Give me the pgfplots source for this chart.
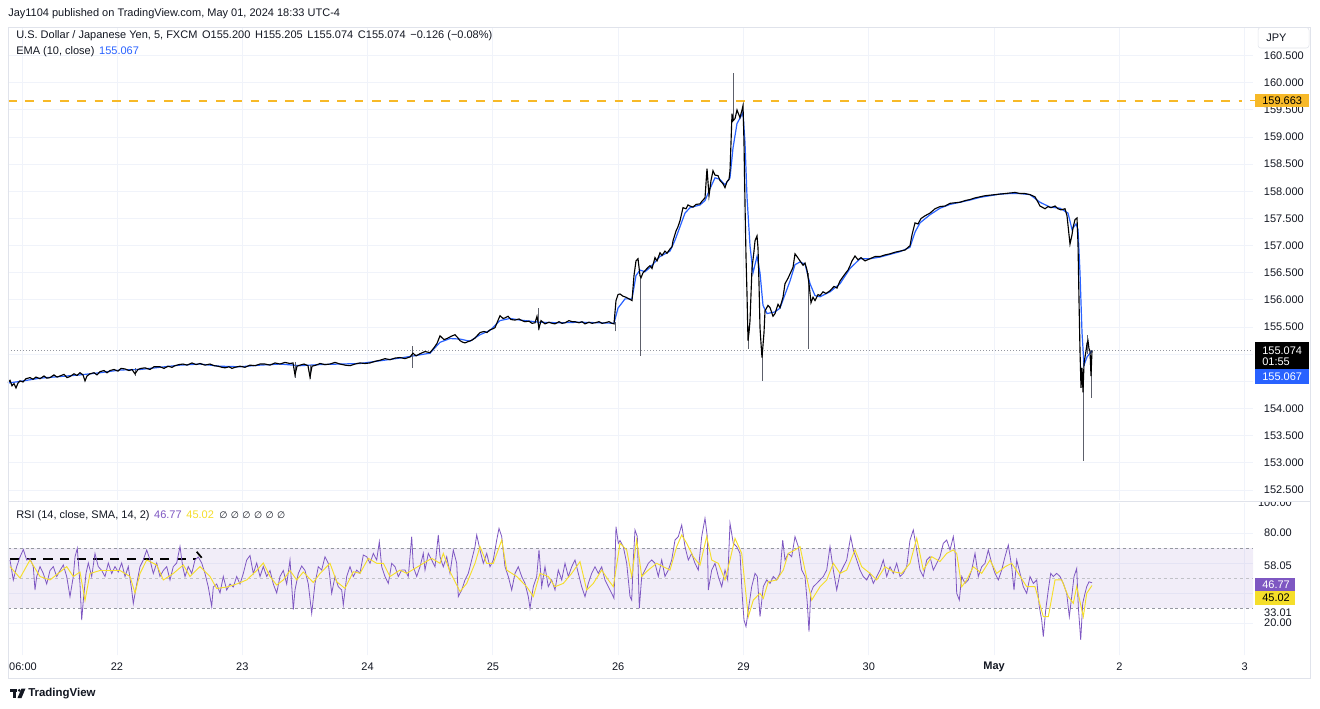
\documentclass[border=0pt]{standalone}
\usepackage{fontspec}
\setmainfont{Liberation Sans}
\newfontfamily\dejavu{DejaVu Sans}
\usepackage{pgfplots}
\pgfplotsset{compat=1.18}
\definecolor{txt}{HTML}{131722}
\definecolor{gridc}{HTML}{F0F3FA}
\definecolor{framec}{HTML}{E0E3EB}
\definecolor{emablue}{HTML}{2962FF}
\definecolor{orng}{HTML}{F7B928}
\definecolor{rsip}{HTML}{7E57C2}
\definecolor{rsiy}{HTML}{F5DE2A}
\definecolor{dgray}{HTML}{9598A1}
\definecolor{wickc}{HTML}{5D606B}
\newcommand\fs{\fontsize{8.25}{10}\selectfont}
\pgfplotsset{tvaxis/.style={scale only axis, width=933.75pt, xmin=8, xmax=1253,
  axis line style={draw=none}, tick style={draw=none}, major tick length=0pt,
  xtick={23,117,242.3,367.6,492.9,618.2,743.5,868.8,994.1,1119.4,1244.7},
  xticklabels={}, yticklabels={}, grid=major, grid style={gridc, line width=0.75pt}, clip=true}}
\begin{document}
\begin{tikzpicture}
\fill[white] (0pt,0pt) rectangle (990pt,-531.75pt);
% ---------------- price panel
\begin{axis}[tvaxis, at={(6pt,-21pt)}, anchor=north west, height=354pt,
  ymin=152.316, ymax=161.009, ytick={152.5,153,...,160.5}]
\addplot[orng, line width=1.4pt, dash pattern=on 6.5pt off 6.5pt] coordinates {(8,159.663)(1242,159.663)};
\addplot[dgray, line width=0.6pt, dash pattern=on 0.75pt off 1.5pt] coordinates {(8,155.074)(1253,155.074)};
\addplot[emablue, line width=0.9pt] coordinates {(8,154.47)(20,154.50)(40,154.56)(60,154.59)(80,154.62)(100,154.66)(120,154.71)(140,154.72)(160,154.76)(180,154.80)(200,154.82)(220,154.78)(240,154.77)(260,154.80)(280,154.82)(300,154.79)(320,154.81)(340,154.82)(360,154.83)(380,154.88)(400,154.93)(420,154.99)(430,155.02)(440,155.22)(450,155.29)(460,155.28)(470,155.24)(480,155.36)(490,155.44)(500,155.62)(510,155.66)(520,155.63)(540,155.59)(560,155.58)(580,155.59)(600,155.58)(614,155.57)(618,155.85)(625,156.02)(632,156.02)(636,156.45)(640,156.55)(645,156.52)(650,156.60)(660,156.80)(670,156.90)(675,157.10)(680,157.35)(685,157.60)(690,157.70)(700,157.75)(705,157.83)(710,158.05)(715,158.25)(720,158.22)(725,158.12)(730,158.25)(733,158.8)(737,159.25)(743,159.45)(745,158.9)(747,157.9)(750,157.0)(753,156.5)(757,156.8)(760,156.5)(763,155.9)(767,155.75)(775,155.78)(780,155.85)(790,156.35)(795,156.65)(800,156.70)(805,156.66)(810,156.30)(815,156.08)(820,156.06)(830,156.15)(840,156.30)(850,156.58)(860,156.76)(870,156.76)(880,156.79)(890,156.84)(900,156.89)(910,156.97)(915,157.25)(920,157.42)(930,157.57)(940,157.69)(950,157.76)(960,157.80)(970,157.84)(980,157.89)(990,157.92)(1000,157.95)(1010,157.96)(1020,157.96)(1030,157.94)(1040,157.80)(1050,157.71)(1060,157.69)(1068,157.6)(1072,157.3)(1076,157.4)(1078,157.3)(1080,156.5)(1082,155.4)(1084,154.8)(1087,154.95)(1092,155.067)};
\addplot[wickc, line width=0.5pt, unbounded coords=jump] coordinates {(640,154.97)(640,156.45)(640.5,nan)(733,159.3)(733,160.18)(733.5,nan)(762,154.51)(762,155.0)(762.5,nan)(748,155.1)(748,155.5)(748.5,nan)(808,155.10)(808,156.5)(808.5,nan)(1083,153.04)(1083,154.5)(1083.5,nan)(1091,154.20)(1091,154.8)(1091.5,nan)(615,155.42)(615,155.6)(615.5,nan)(538,155.45)(538,155.85)(538.5,nan)(412,154.75)(412,155.15)(412.5,nan)(295,154.57)(295,154.85)(295.5,nan)(310,154.55)(310,154.8)(310.5,nan)(135,154.60)(135,154.75)(135.5,nan)(1087,155.0)(1087,155.35)};
\addplot[black, line width=0.85pt] coordinates {(8,154.48)(10,154.52)(12,154.42)(14,154.46)(16,154.38)(18,154.47)(20,154.51)(23,154.49)(26,154.55)(30,154.57)(33,154.54)(36,154.58)(40,154.55)(44,154.60)(47,154.56)(50,154.57)(54,154.62)(57,154.58)(60,154.60)(64,154.63)(67,154.57)(70,154.59)(74,154.64)(77,154.61)(80,154.66)(83,154.62)(85,154.51)(87,154.60)(90,154.64)(94,154.66)(97,154.62)(100,154.68)(104,154.70)(107,154.66)(110,154.70)(114,154.72)(118,154.69)(121,154.74)(125,154.73)(129,154.70)(132,154.72)(135,154.64)(138,154.72)(141,154.74)(145,154.75)(150,154.72)(154,154.77)(160,154.77)(164,154.74)(168,154.78)(172,154.76)(175,154.79)(179,154.81)(183,154.82)(187,154.80)(192,154.84)(196,154.81)(200,154.83)(205,154.80)(210,154.82)(214,154.79)(218,154.78)(222,154.76)(225,154.75)(229,154.77)(232,154.74)(235,154.76)(240,154.78)(245,154.76)(250,154.80)(255,154.79)(260,154.82)(265,154.82)(270,154.80)(275,154.84)(280,154.82)(285,154.85)(290,154.83)(293,154.84)(295,154.62)(297,154.78)(300,154.80)(304,154.82)(308,154.79)(310,154.58)(312,154.78)(316,154.80)(320,154.83)(325,154.81)(330,154.82)(335,154.85)(340,154.82)(345,154.80)(350,154.79)(355,154.82)(360,154.84)(365,154.83)(370,154.84)(375,154.87)(380,154.89)(385,154.92)(390,154.90)(395,154.93)(400,154.94)(405,154.92)(410,154.95)(413,155.02)(416,154.97)(420,155.01)(425,155.05)(430,155.03)(434,155.12)(437,155.20)(440,155.34)(444,155.27)(447,155.29)(451,155.33)(455,155.36)(458,155.30)(460,155.25)(463,155.22)(465,155.21)(469,155.24)(472,155.26)(475,155.30)(478,155.36)(480,155.40)(484,155.42)(487,155.40)(490,155.45)(493,155.47)(495,155.49)(497,155.58)(500,155.71)(503,155.66)(505,155.67)(508,155.70)(511,155.64)(515,155.63)(519,155.65)(522,155.62)(525,155.60)(529,155.61)(532,155.57)(535,155.58)(537,155.70)(539,155.48)(541,155.62)(545,155.56)(549,155.59)(552,155.57)(555,155.56)(559,155.60)(562,155.57)(565,155.58)(569,155.62)(572,155.60)(575,155.60)(579,155.58)(582,155.60)(585,155.56)(589,155.59)(592,155.57)(595,155.58)(599,155.60)(602,155.57)(605,155.58)(609,155.60)(612,155.57)(614,155.56)(616,155.99)(618,156.10)(620,156.11)(623,156.07)(626,156.05)(629,156.02)(632,155.99)(634,156.45)(636,156.72)(638,156.76)(640,156.45)(641,156.41)(643,156.50)(645,156.54)(648,156.60)(650,156.63)(652,156.58)(655,156.78)(657,156.72)(660,156.87)(662,156.82)(665,156.90)(667,156.86)(670,156.94)(672,156.98)(673,157.09)(676,157.27)(678,157.35)(680,157.46)(683,157.70)(686,157.68)(688,157.75)(690,157.73)(693,157.71)(696,157.76)(700,157.77)(702,157.82)(705,157.88)(707,158.42)(709,157.92)(711,158.20)(713,158.38)(715,158.30)(718,158.29)(720,158.20)(723,158.14)(725,158.07)(727,158.18)(729,158.22)(730,158.38)(731,158.9)(732,159.43)(733,159.30)(735,159.34)(737,159.50)(738,159.45)(740,159.36)(742,159.50)(743,159.58)(744,158.9)(745,157.77)(746,156.8)(747,156.11)(748,155.25)(749,155.40)(750,155.62)(752,156.59)(754,156.90)(755,157.09)(757,157.18)(758,156.96)(759,156.3)(760,155.49)(761,155.20)(762,154.94)(764,155.4)(765,155.80)(768,155.90)(770,155.86)(773,155.70)(775,155.75)(778,155.92)(780,155.86)(783,156.05)(785,156.30)(788,156.40)(790,156.48)(793,156.60)(795,156.85)(797,156.80)(800,156.72)(803,156.64)(805,156.68)(807,156.55)(809,156.30)(811,155.95)(813,156.05)(815,155.99)(818,156.10)(820,156.08)(823,156.15)(826,156.12)(830,156.17)(834,156.25)(837,156.22)(840,156.35)(845,156.48)(848,156.55)(850,156.63)(852,156.72)(855,156.81)(858,156.74)(861,156.78)(865,156.72)(870,156.76)(875,156.80)(880,156.80)(885,156.83)(890,156.85)(895,156.88)(900,156.90)(905,156.92)(910,157.00)(912,157.20)(915,157.42)(918,157.40)(921,157.50)(925,157.55)(930,157.60)(935,157.68)(940,157.72)(945,157.73)(950,157.78)(955,157.79)(960,157.80)(965,157.83)(970,157.85)(975,157.88)(980,157.90)(985,157.92)(990,157.93)(995,157.94)(1000,157.95)(1005,157.96)(1010,157.97)(1015,157.98)(1020,157.96)(1025,157.96)(1030,157.94)(1035,157.90)(1038,157.80)(1040,157.73)(1043,157.70)(1045,157.68)(1048,157.72)(1051,157.70)(1055,157.73)(1058,157.68)(1061,157.66)(1065,157.68)(1067,157.55)(1069,157.20)(1070,157.03)(1072,157.20)(1073,157.33)(1075,157.48)(1077,157.51)(1078,157.03)(1079,155.99)(1080,155.06)(1081,154.38)(1082,154.75)(1083,154.30)(1084,154.83)(1085,154.95)(1086,155.06)(1087,155.20)(1088,155.25)(1089,155.10)(1090,155.06)(1091,154.60)(1092,155.07)};
\end{axis}
% ---------------- RSI panel
\begin{axis}[tvaxis, at={(6pt,-377.25pt)}, anchor=north west, height=114pt,
  ymin=-1.333, ymax=100, ytick={20,40,60,80}]
\addplot[draw=none, fill=rsip, fill opacity=0.1] coordinates {(8,30)(1253,30)(1253,70)(8,70)(8,30)};
\addplot[dgray, line width=0.6pt, dash pattern=on 2.2pt off 2.2pt] coordinates {(8,70)(1253,70)};
\addplot[dgray!60, line width=0.6pt, dash pattern=on 2.2pt off 2.2pt] coordinates {(8,50)(1253,50)};
\addplot[dgray, line width=0.6pt, dash pattern=on 2.2pt off 2.2pt] coordinates {(8,30)(1253,30)};
\addplot[black, line width=1.4pt, dash pattern=on 7pt off 5.5pt] coordinates {(10,62.4)(196,62.4)};
\addplot[black, line width=1.3pt] coordinates {(196.7,67.5)(201.7,63.5)};
\addplot[rsip, line width=0.6pt] coordinates {(10,62)(13.3,48.7)(16.7,57.6)(20,64)(23.3,69)(26.7,62)(30,63)(33.3,57.6)(35,42)(36.7,51)(40,57.6)(43.3,53)(46.7,46)(50,55)(53.3,57.6)(56.7,51)(60,55)(63.3,58.7)(66.7,51)(70,37.6)(73.3,51)(75,64)(77.3,69.8)(80,46)(81.7,22)(83.3,35)(86,53)(88.3,60)(91.7,51)(95,66.4)(98.3,57.6)(101.7,55)(105,51)(108.3,60)(111.7,53)(115,57.6)(118.3,54)(121.7,60)(125,51)(128.3,57.6)(131.7,42)(133.3,33)(136.7,46)(140,57.6)(143.3,62)(146.7,68.7)(150,62)(153.3,53)(156.7,60)(160,51)(163.3,55)(166.7,57.6)(170,48.7)(173.3,57.6)(176.7,60)(180,71)(182.7,57.6)(185,51)(188.3,57.6)(191.7,53)(195,62)(198.3,64)(201.7,60)(205,53)(208.3,44)(211.7,31)(213.3,44)(216.7,46)(220,40)(223.3,51)(226.7,42)(230,46)(233.3,44)(236.7,51)(240,46)(243.3,53)(246.7,62)(250,65)(253.3,53)(256.7,60)(260,51)(263.3,57.6)(266.7,51)(270,55)(273.3,46)(276.7,40)(280,51)(283.3,55)(286.7,46)(290,62)(293.3,29)(295,42)(298.3,53)(301.7,58)(305,55)(308.3,46)(311.7,26.4)(315,46.4)(318.3,57.5)(321.7,55.3)(325,64.2)(328.3,59.8)(331.7,39.8)(335,51)(338.3,44.2)(341.7,42)(343.3,32)(346.7,51)(350,57.5)(353.3,51)(356.7,55.3)(360,53.1)(363.3,65.3)(366.7,64.2)(370,59.8)(373.3,66.4)(376.7,62)(379.3,74.2)(381.7,57.5)(385,51)(388.3,46.4)(391.7,59.8)(395,57.5)(398.3,51)(401.7,55.3)(405,55.3)(408.3,51)(411.7,77.6)(413.3,57.5)(416.7,51)(420,57.5)(423.3,66.4)(425,55.3)(428.3,66.4)(431.7,62)(435,57.5)(438.3,78.7)(440,64.2)(443.3,57.5)(446.7,64.2)(450,53.1)(453.3,68.7)(456.7,59.8)(458.3,37.6)(461.7,42)(465,48.7)(468.3,53.1)(471.7,62)(475,70.9)(476.7,78.7)(480,68.7)(483.3,59.8)(486.7,66.4)(490,57.5)(493.3,62)(496.7,75.3)(499,83.1)(501.7,77.6)(505,57.5)(508.3,51)(511.7,42)(515,53.1)(518.3,57.5)(521.7,51)(525,46.4)(528.3,37.6)(530,29.8)(533.3,44.2)(536.7,51)(539,68.7)(541.7,44.2)(545,57.5)(548.3,44.2)(551.7,48.7)(555,42)(558.3,55.3)(561.7,48.7)(565,59.8)(568.3,51)(571.7,57.5)(575,62)(578.3,53.1)(581.7,44.2)(585,37.6)(588.3,46.4)(591.7,53.1)(595,57.5)(598.3,53.1)(601.7,57.5)(605,48.7)(608.3,44.2)(611.7,39.8)(614,36.4)(616,84.2)(618.3,73.1)(620,75)(623.3,70.9)(626.7,59.8)(630,37.6)(631.7,35.3)(633.3,62)(635,82)(637.3,77.6)(639.3,29.8)(641.7,51)(645,55.3)(648.3,59.8)(651.7,62)(655,59.8)(658.3,51)(661.7,62)(665,51)(668.3,55.3)(671.7,62)(675,75.3)(678.3,77.6)(681.7,85.3)(685,70.9)(688.3,62)(691.7,66.4)(695,59.8)(698.3,55.3)(701.7,77.6)(705,89.8)(707.3,77.6)(708.3,42)(711.7,55.3)(715,59.8)(718.3,51)(721.7,44.2)(725,55.3)(727.7,48.7)(730,86.4)(733.3,73.1)(736.7,70.9)(740,66.4)(742.3,37.6)(744,22)(746,17.6)(748.3,28.7)(751.7,44.2)(755,53.1)(757.3,51)(760,24.2)(763.3,44.2)(766.7,48.7)(770,46.4)(773.3,51)(776.7,48.7)(780,53.1)(782.7,75.3)(785,62)(788.3,66.4)(791.7,64.2)(795,77.6)(798.3,70.9)(801.7,55.3)(805,51)(807.3,33.1)(809,14.2)(810.7,39.8)(813.3,44.2)(816.7,46.4)(820,48.7)(823.3,51)(826.7,55.3)(830,70.9)(833.3,55.3)(836.7,42)(840,53.1)(843.3,57.5)(846.7,62)(850.7,77.6)(853.3,68.7)(856.7,62)(860,55.3)(863.3,51)(866.7,48.7)(870,53.1)(873.3,46.4)(876.7,51)(880,55.3)(883.3,62)(886.7,51)(890,57.5)(893.3,53.1)(896.7,59.8)(900,51)(903.3,53.1)(906.7,57.5)(910,75.3)(913.3,82)(916.7,68.7)(920,55.3)(923.3,51)(926.7,62)(930,64.2)(933.3,55.3)(936.7,59.8)(940,64.2)(943.3,73.1)(946.7,75.3)(950,68.7)(953.3,77.6)(955,68.7)(956.7,39.8)(959.3,35.3)(961.7,51)(965,46.4)(968.3,48.7)(971.7,55.3)(975,66.4)(978.3,51)(981.7,57.5)(985,59.8)(988.3,68.7)(991.7,59.8)(995,53.1)(998.3,48.7)(1001.7,55.3)(1005,64.2)(1008.3,72)(1011.7,57.5)(1014,42)(1016.7,62)(1020,53.1)(1023.3,44.2)(1026.7,39.8)(1030,51)(1033.3,46.4)(1036.7,48.7)(1039.3,30.9)(1041.7,22)(1043.3,10.9)(1045.7,28.7)(1048.3,42)(1050.7,53.1)(1053.3,51)(1056.7,53.1)(1060,51)(1063.3,46.4)(1066.7,39.8)(1069.3,24.2)(1071.7,37.6)(1074,51)(1076.7,56.4)(1078.3,30.9)(1080.7,8.7)(1082.7,33.1)(1085,39.8)(1086.7,44.2)(1089,47.5)(1092,46.77)};
\addplot[rsiy, line width=0.7pt] coordinates {(10,57.6)(20,50)(30,62)(40,51)(50,48.7)(60,54)(66.7,57.6)(73.3,51)(80,54)(85,35)(90,53)(100,55)(110,55)(120,55)(130,51)(135,40)(140,53)(146.7,62)(156.7,58.7)(163.3,48.7)(173.3,53)(183.3,58.7)(190,51)(200,57.6)(210,51)(216.7,43)(226.7,44)(236.7,46)(246.7,48.7)(256.7,55)(263.3,60)(270,51)(276.7,45.3)(283.3,48.7)(290,55)(296.7,48.7)(303.3,54)(313.3,47)(320,53)(330,59.8)(336.7,47.5)(345,43.1)(353.3,54.2)(360,53.1)(368.3,63.1)(376.7,59.8)(383.3,59.8)(390,51)(400,55.3)(406.7,53.1)(415,56.4)(423.3,59.8)(431.7,63.1)(440,59.8)(443.3,66.4)(450,54.2)(460,40.9)(466.7,46.4)(475,59.8)(480,70.9)(486.7,59.8)(493.3,59.8)(501.7,75.3)(506.7,55.3)(516.7,51)(526.7,44.2)(533.3,37.6)(540,53.1)(548.3,51)(555,44.2)(563.3,46.4)(571.7,53.1)(580,60.9)(586.7,42)(593.3,46.4)(601.7,55.3)(608.3,48.7)(613.3,44.2)(620,73.1)(626.7,68.7)(631.7,51)(636.7,75.3)(641.7,51)(648.3,55.3)(656.7,59.8)(663.3,57.5)(670,55.3)(676.7,70.9)(681.7,78.7)(686.7,73.1)(693.3,64.2)(700,58.6)(706.7,77.6)(711.7,62)(718.3,59.8)(725,48.7)(730,62)(735,76.4)(741.7,66.4)(748.3,24.2)(753.3,35.3)(760,39.8)(763.3,36.4)(768.3,47.5)(776.7,48.7)(783.3,55.3)(788.3,66.4)(795,68.7)(800,70.9)(805,55.3)(811.7,35.3)(820,44.2)(826.7,48.7)(833.3,59.8)(840,53.1)(846.7,55.3)(855,68.7)(861.7,57.5)(870,53.1)(876.7,48.7)(885,57.5)(893.3,54.2)(901.7,53.1)(910,59.8)(916.7,76.4)(923.3,55.3)(931.7,64.2)(940,61)(946.7,66.4)(953.3,68.7)(956.7,66.4)(961.7,44.2)(966.7,48.7)(973.3,57.5)(981.7,53.1)(990,62)(996.7,53.1)(1005,57.5)(1011.7,59.8)(1018.3,53.1)(1026.7,44.2)(1035,44.2)(1043.3,24.2)(1048.3,24.2)(1055,48.7)(1061.7,48.7)(1068.3,37.6)(1073.3,33.1)(1076.7,44.2)(1083.3,24.2)(1086.7,39.8)(1092,45.02)};
\end{axis}
% ---------------- frame, labels
\begin{scope}[x=0.75pt,y=-0.75pt]
\draw[framec, line width=0.75pt] (8,28) rectangle (1310,678);
\draw[framec, line width=0.75pt] (8,501.5) -- (1310,501.5);
\node[anchor=west, text=txt, inner sep=0pt] at (8,14) {\fs Jay1104 published on TradingView.com, May 01, 2024 18:33 UTC-4};
\node[anchor=west, text=txt, inner sep=0pt] at (16,36) {\fs U.S. Dollar / Japanese Yen, 5, FXCM\hspace{3.5pt}O155.200\hspace{3.5pt}H155.205\hspace{3.5pt}L155.074\hspace{3.5pt}C155.074\hspace{3.5pt}−0.126 (−0.08\%)};
\node[anchor=west, text=txt, inner sep=0pt] at (16,51.5) {\fs EMA (10, close)\hspace{3.5pt}\textcolor{emablue}{155.067}};
\node[anchor=west, text=txt, inner sep=0pt] at (16,516) {\fs RSI (14, close, SMA, 14, 2)\hspace{3.5pt}\textcolor{rsip}{46.77}\hspace{3.5pt}\textcolor{rsiy}{45.02}\hspace{4pt}{\dejavu\fontsize{7}{8}\selectfont ∅\hspace{2.6pt}∅\hspace{2.6pt}∅\hspace{2.6pt}∅\hspace{2.6pt}∅\hspace{2.6pt}∅}};
% price scale
\draw[framec, rounded corners=2pt, fill=white] (1258,27.5) rectangle (1309,48);
\node[anchor=west, text=txt, inner sep=0pt] at (1266,38) {\fs JPY};
\foreach \p/\yy in {160.500/55.7,160.000/82.8,159.500/109.9,159.000/137.1,158.500/164.2,158.000/191.4,157.500/218.5,157.000/245.7,156.500/272.8,156.000/300,155.500/327.1,154.000/408.5,153.500/435.7,153.000/462.8,152.500/490}
  {\node[anchor=east, text=txt, inner sep=0pt] at (1304,\yy) {\fs \p};}
\draw[orng, line width=1pt] (1250,100.8) -- (1255,100.8);
\fill[orng] (1255,94) rectangle (1309,107.5);
\node[anchor=west, text=black, inner sep=0pt] at (1262,100.8) {\fs 159.663};
\fill[black] (1255,342) rectangle (1309,369);
\node[anchor=west, text=white, inner sep=0pt] at (1262,350.5) {\fs 155.074};
\node[anchor=west, text=white, inner sep=0pt] at (1262,362) {\fs 01:55};
\fill[emablue] (1255,369) rectangle (1309,384);
\node[anchor=west, text=white, inner sep=0pt] at (1262,376.5) {\fs 155.067};
% RSI scale
\begin{scope}
\clip (1255,502.5) rectangle (1309,655);
\node[anchor=east, text=txt, inner sep=0pt] at (1292,503) {\fs 100.00};
\end{scope}
\node[anchor=east, text=txt, inner sep=0pt] at (1292,533) {\fs 80.00};
\node[anchor=east, text=txt, inner sep=0pt] at (1292,566) {\fs 58.05};
\node[anchor=east, text=txt, inner sep=0pt] at (1292,623) {\fs 20.00};
\node[anchor=east, text=txt, inner sep=0pt] at (1292,613) {\fs 33.01};
\fill[rsip] (1255,578) rectangle (1295,590.5);
\node[anchor=west, text=white, inner sep=0pt] at (1262,584.3) {\fs 46.77};
\fill[rsiy] (1255,591) rectangle (1295,604.5);
\node[anchor=west, text=black, inner sep=0pt] at (1262,597.8) {\fs 45.02};
% time axis
\foreach \xx/\lab in {23/06:00,117/22,242.3/23,367.6/24,492.9/25,618.2/26,743.5/29,868.8/30,1119.4/2,1244.7/3}
  {\node[text=txt, inner sep=0pt] at (\xx,667) {\fs \lab};}
\node[text=txt, inner sep=0pt] at (994.1,667) {\fs\bfseries May};
% logo
\fill[txt] (10,688.5) rectangle (17,691.5);
\fill[txt] (13.2,691.5) rectangle (16.2,698);
\fill[txt] (19.3,690.3) circle (1.5);
\fill[txt] (21.5,688.5) -- (25.5,688.5) -- (21.5,698) -- (17.5,698) -- cycle;
\node[anchor=west, text=txt, inner sep=0pt] at (28,693.5) {\fontsize{8.6}{10}\selectfont\bfseries TradingView};
\end{scope}
\pgfresetboundingbox
\path (0pt,0pt) rectangle (990pt,-531.75pt);
\end{tikzpicture}
\end{document}
